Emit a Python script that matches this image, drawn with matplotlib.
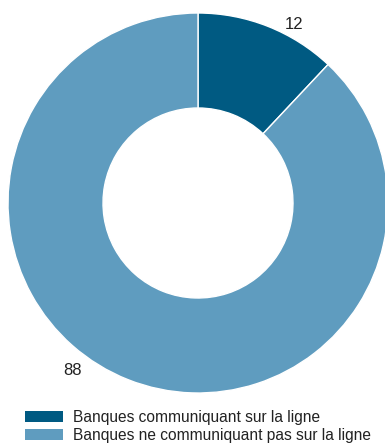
import matplotlib
matplotlib.use("Agg")
import matplotlib.pyplot as plt
from matplotlib.patches import Patch

categories = ["Banques communiquant sur la ligne", "Banques ne communiquant pas sur la ligne"]
values = [12, 88]
labels = ["12", "88"]
colors = ["#005a82", "#5f9cbf"]

plt.rcParams['font.family'] = ['Liberation Sans', 'DejaVu Sans']

W, H = 385, 448
fig = plt.figure(figsize=(W/100, H/100), dpi=100)
cx, cy, r = 198, 203, 190
ax = fig.add_axes([(cx - r)/W, (H - cy - r)/H, 2*r/W, 2*r/H])
ax.pie(values, colors=colors, startangle=90, counterclock=False,
       wedgeprops=dict(width=0.5, edgecolor='white', linewidth=1))
ax.set_xlim(-1, 1)
ax.set_ylim(-1, 1)
ax.set_aspect('equal')
ax.axis('off')

label_pos = [(0.505, 0.94), (-0.658, -0.879)]
for lab, (x, y) in zip(labels, label_pos):
    ax.text(x, y, lab, ha='center', va='center', fontsize=12, color='#222222')

fs = 11.2
handles = [Patch(facecolor=c, edgecolor='none') for c in colors]
fig.legend(handles, categories, loc='upper left', bbox_to_anchor=(25/W, 1 - 410/H),
           frameon=False, fontsize=fs, handlelength=2.44, handleheight=0.72,
           handletextpad=0.62, labelspacing=0.2, borderpad=0, borderaxespad=0,
           labelcolor='#222222')

fig.savefig("out.png", dpi=100)
